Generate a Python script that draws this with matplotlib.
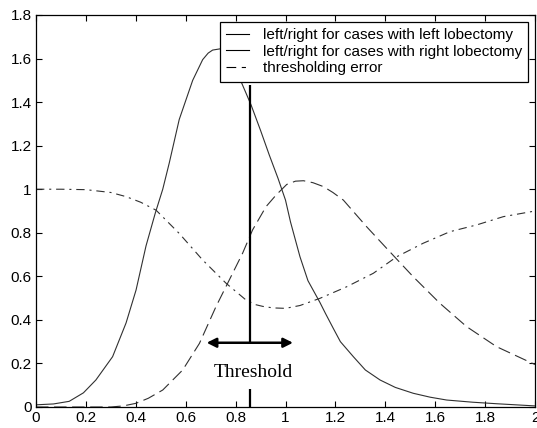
import numpy as np
import matplotlib
matplotlib.use("Agg")
import matplotlib.pyplot as plt
from matplotlib.lines import Line2D

plt.rcParams['font.family'] = ['Liberation Sans', 'DejaVu Sans']
plt.rcParams['lines.scale_dashes'] = False

# left/right ratio, cases with left lobectomy (solid)
x_left = [0.0, 0.07, 0.133, 0.19, 0.24, 0.307, 0.361, 0.401, 0.441, 0.478, 0.508,
          0.534, 0.574, 0.628, 0.668, 0.69, 0.708, 0.74, 0.76, 0.79, 0.822, 0.862,
          0.9, 0.935, 0.97, 1.0, 1.02, 1.058, 1.09, 1.138, 1.16, 1.192, 1.22, 1.272,
          1.32, 1.379, 1.44, 1.512, 1.58, 1.646, 1.75, 1.846, 2.0]
y_left = [0.01, 0.014, 0.026, 0.065, 0.124, 0.231, 0.386, 0.537, 0.74, 0.89, 1.0,
          1.12, 1.32, 1.5, 1.595, 1.625, 1.639, 1.645, 1.635, 1.585, 1.494, 1.387,
          1.27, 1.157, 1.05, 0.95, 0.85, 0.69, 0.58, 0.48, 0.43, 0.36, 0.30, 0.231,
          0.17, 0.124, 0.09, 0.063, 0.045, 0.032, 0.022, 0.015, 0.005]

# left/right ratio, cases with right lobectomy (dashed)
x_right = [0.0, 0.3, 0.35, 0.401, 0.45, 0.508, 0.588, 0.655, 0.721, 0.768, 0.828,
           0.868, 0.922, 0.962, 1.005, 1.04, 1.072, 1.11, 1.152, 1.19, 1.232, 1.325,
           1.405, 1.512, 1.619, 1.726, 1.846, 2.0]
y_right = [0.0, 0.0, 0.005, 0.017, 0.04, 0.078, 0.17, 0.292, 0.46, 0.568, 0.706,
           0.813, 0.92, 0.973, 1.022, 1.037, 1.039, 1.03, 1.012, 0.985, 0.95, 0.828,
           0.729, 0.598, 0.476, 0.369, 0.277, 0.195]

# thresholding error (dash-dot)
x_err = [0.0, 0.1, 0.2, 0.3, 0.361, 0.42, 0.481, 0.574, 0.668, 0.762, 0.842, 0.88,
         0.909, 0.95, 1.0, 1.058, 1.138, 1.245, 1.352, 1.446, 1.552, 1.659, 1.766,
         1.873, 2.0]
y_err = [1.0, 1.0, 0.998, 0.985, 0.966, 0.94, 0.904, 0.797, 0.675, 0.568, 0.491,
         0.47, 0.462, 0.455, 0.453, 0.466, 0.499, 0.552, 0.614, 0.69, 0.752, 0.805,
         0.836, 0.874, 0.9]

labels = ['left/right for cases with left lobectomy',
          'left/right for cases with right lobectomy',
          'thresholding error']

threshold = 0.858
arrow_x = [0.684, 1.03]

fig = plt.figure(figsize=(5.37, 4.28), dpi=100)
ax = fig.add_axes([36 / 537, 21 / 428, 499 / 537, 392 / 428])

c = '#303030'
dash = (0, (9, 4))
dashdot = (0, (6, 3.5, 1.5, 3.5))
ax.plot(x_left, y_left, color=c, lw=0.8, ls='-')
ax.plot(x_right, y_right, color=c, lw=0.8, ls=dash)
ax.plot(x_err, y_err, color=c, lw=0.8, ls=dashdot)

# threshold marker
ax.vlines(threshold, 0.29, 1.478, color='k', lw=1.6)
ax.vlines(threshold, 0, 0.083, color='k', lw=1.6)
ax.annotate('', xy=(arrow_x[0], 0.295), xytext=(arrow_x[1], 0.295),
            arrowprops=dict(arrowstyle='<|-|>', color='k', lw=1.8,
                            mutation_scale=14, shrinkA=0, shrinkB=0))
ax.text(0.872, 0.158, 'Threshold', ha='center', va='center',
        family='Liberation Serif', fontsize=14)

ax.set_xlim(0, 2)
ax.set_ylim(0, 1.8)
ax.set_xticks(np.arange(0, 2.01, 0.2))
ax.set_yticks(np.arange(0, 1.81, 0.2))
ax.set_xticklabels(['%g' % round(v, 1) for v in np.arange(0, 2.01, 0.2)])
ax.set_yticklabels(['%g' % round(v, 1) for v in np.arange(0, 1.81, 0.2)])
ax.tick_params(direction='in', top=True, right=True, length=4, width=0.8,
               labelsize=11, pad=3)
for s in ax.spines.values():
    s.set_linewidth(0.9)

handles = [Line2D([], [], color='k', lw=0.8, ls='-'),
           Line2D([], [], color='k', lw=0.8, ls='-'),
           Line2D([], [], color='k', lw=0.8, ls=(0, (7, 4, 3, 4)))]
leg = ax.legend(handles, labels, loc='upper right', fontsize=11, frameon=True,
                fancybox=False, edgecolor='k', framealpha=1, borderaxespad=0.45,
                handlelength=1.5, handletextpad=0.9, labelspacing=0.18,
                borderpad=0.4)
leg.get_frame().set_linewidth(0.9)

fig.savefig('out.png', dpi=100)
